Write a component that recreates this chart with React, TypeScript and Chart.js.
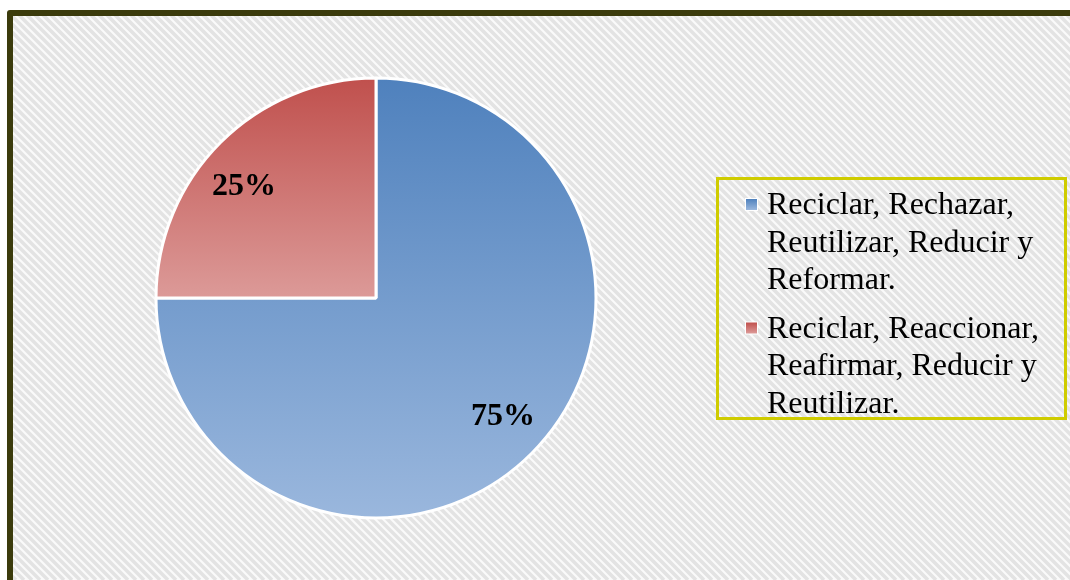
import React, { useEffect, useRef } from "react";
import { Chart, registerables } from "chart.js";

Chart.register(...registerables);

const categories: string[] = [
  "Reciclar, Rechazar, Reutilizar, Reducir y Reformar.",
  "Reciclar, Reaccionar, Reafirmar, Reducir y Reutilizar.",
];
const values: number[] = [75, 25];
const percentLabels: string[] = ["75%", "25%"];
const topColors: string[] = ["#4f81bd", "#c0504d"];
const bottomColors: string[] = ["#9ab7dd", "#dc9a98"];
// small nudges of the label positions (style only)
const labelNudgeX: number[] = [4, -9];
const labelNudgeY: number[] = [-4, 12];

const W = 1070;
const H = 580;
const SERIF = "'Liberation Serif', 'Times New Roman', serif";

function vGrad(ctx: CanvasRenderingContext2D, y0: number, y1: number, i: number) {
  const g = ctx.createLinearGradient(0, y0, 0, y1);
  g.addColorStop(0, topColors[i]);
  g.addColorStop(1, bottomColors[i]);
  return g;
}

const backgroundPlugin = {
  id: "bgFrame",
  beforeDraw(chart: any) {
    const ctx: CanvasRenderingContext2D = chart.ctx;
    ctx.save();
    ctx.fillStyle = "#ffffff";
    ctx.fillRect(0, 0, W, H);
    ctx.beginPath();
    ctx.rect(13, 16, W, H);
    ctx.clip();
    ctx.fillStyle = "#fafafa";
    ctx.fillRect(13, 16, W, H);
    ctx.strokeStyle = "#e3e3e3";
    ctx.lineWidth = 3.5;
    for (let x = -H; x < W + 20; x += 8) {
      ctx.beginPath();
      ctx.moveTo(x, 0);
      ctx.lineTo(x + H, H);
      ctx.stroke();
    }
    ctx.restore();
    ctx.save();
    ctx.strokeStyle = "#3b3b0c";
    ctx.lineWidth = 6;
    ctx.lineJoin = "round";
    ctx.strokeRect(10, 13, W + 40, H + 40);
    ctx.restore();
  },
};

const gradientPlugin = {
  id: "arcGradients",
  beforeDatasetsDraw(chart: any) {
    const meta = chart.getDatasetMeta(0);
    const ctx: CanvasRenderingContext2D = chart.ctx;
    meta.data.forEach((arc: any, i: number) => {
      const { y, startAngle, endAngle, outerRadius } = arc.getProps(
        ["y", "startAngle", "endAngle", "outerRadius"],
        true
      );
      const ys: number[] = [y, y + outerRadius * Math.sin(startAngle), y + outerRadius * Math.sin(endAngle)];
      for (let k = -4; k <= 8; k++) {
        const a = (k * Math.PI) / 2;
        if (a > startAngle && a < endAngle) ys.push(y + outerRadius * Math.sin(a));
      }
      arc.options.backgroundColor = vGrad(ctx, Math.min(...ys), Math.max(...ys), i);
    });
  },
};

const labelsPlugin = {
  id: "pctLabels",
  afterDatasetsDraw(chart: any) {
    const meta = chart.getDatasetMeta(0);
    const ctx: CanvasRenderingContext2D = chart.ctx;
    ctx.save();
    ctx.font = `bold 32px ${SERIF}`;
    ctx.fillStyle = "#000000";
    ctx.textAlign = "center";
    ctx.textBaseline = "middle";
    meta.data.forEach((arc: any, i: number) => {
      const { x, y, startAngle, endAngle, outerRadius } = arc.getProps(
        ["x", "y", "startAngle", "endAngle", "outerRadius"],
        true
      );
      const mid = (startAngle + endAngle) / 2;
      const r = outerRadius * 0.79;
      ctx.fillText(
        percentLabels[i],
        x + r * Math.cos(mid) + labelNudgeX[i],
        y + r * Math.sin(mid) + labelNudgeY[i]
      );
    });
    ctx.restore();
  },
};

function wrap(ctx: CanvasRenderingContext2D, text: string, maxW: number): string[] {
  const words = text.split(" ");
  const lines: string[] = [];
  let cur = "";
  for (const w of words) {
    const t = cur ? cur + " " + w : w;
    if (ctx.measureText(t).width > maxW && cur) {
      lines.push(cur);
      cur = w;
    } else cur = t;
  }
  if (cur) lines.push(cur);
  return lines;
}

const legendPlugin = {
  id: "boxLegend",
  afterDraw(chart: any) {
    const ctx: CanvasRenderingContext2D = chart.ctx;
    ctx.save();
    ctx.strokeStyle = "#cfcc00";
    ctx.lineWidth = 3;
    ctx.strokeRect(717.5, 178.5, 348, 240);
    ctx.font = `32px ${SERIF}`;
    ctx.textAlign = "left";
    ctx.textBaseline = "alphabetic";
    let baseline = 214;
    categories.forEach((cat, i) => {
      const lines = wrap(ctx, cat, 292);
      const my = baseline - 15;
      ctx.fillStyle = "#ffffff";
      ctx.fillRect(745, my - 1, 13, 13);
      ctx.fillStyle = vGrad(ctx, my, my + 11, i);
      ctx.fillRect(746, my, 11, 11);
      ctx.fillStyle = "#000000";
      lines.forEach((ln, j) => {
        ctx.fillText(ln, 767, baseline + j * 37.5);
      });
      baseline += lines.length * 37.5 + 11;
    });
    ctx.restore();
  },
};

export default function App() {
  const ref = useRef<HTMLCanvasElement | null>(null);
  useEffect(() => {
    if (!ref.current) return;
    const chart = new Chart(ref.current, {
      type: "pie",
      data: {
        labels: categories,
        datasets: [
          {
            data: values,
            backgroundColor: topColors,
            borderColor: "#ffffff",
            borderWidth: 3,
          },
        ],
      },
      options: {
        responsive: false,
        animation: false,
        rotation: 0,
        layout: { padding: { left: 154.5, right: 472.5, top: 76.5, bottom: 60.5 } },
        plugins: {
          legend: { display: false },
          tooltip: { enabled: false },
          title: { display: false },
        },
      },
      plugins: [backgroundPlugin, gradientPlugin, labelsPlugin, legendPlugin],
    });
    return () => chart.destroy();
  }, []);
  return (
    <div style={{ position: "absolute", left: 0, top: 0, width: W, height: H }}>
      <canvas ref={ref} width={W} height={H} style={{ display: "block", width: W, height: H }} />
    </div>
  );
}
